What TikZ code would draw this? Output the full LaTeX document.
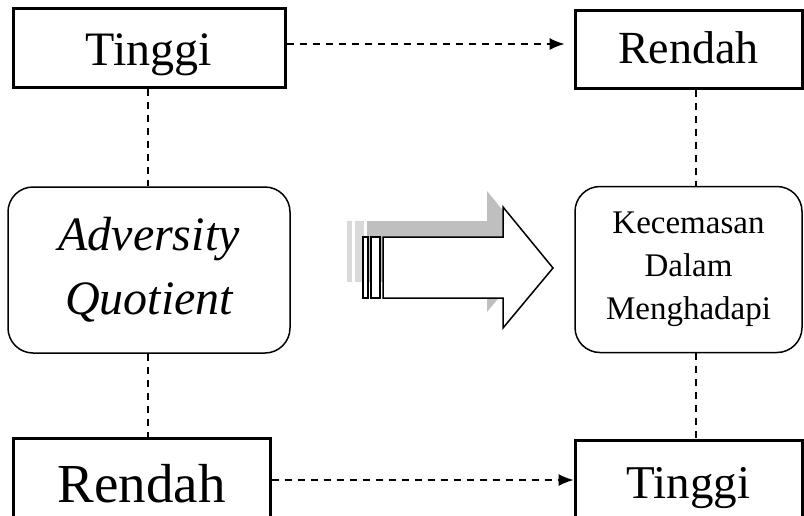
\documentclass[tikz,border=0pt]{standalone}
\usepackage{fontspec}
\setmainfont{Liberation Serif}
\usetikzlibrary{arrows.meta,calc}

\tikzset{
  levelbox/.style={draw, line width=3pt, inner sep=0pt, anchor=base},
  roundbox/.style={draw, line width=1.5pt, rounded corners=25pt, align=center, inner sep=0pt, minimum height=166pt},
  link/.style={line width=1.3pt, dash pattern=on 7pt off 6pt},
}

\begin{document}
\begin{tikzpicture}[x=1pt,y=-1pt]
    \useasboundingbox (0,0) rectangle (804,515);
    \node[levelbox, minimum width=272pt, text height=57pt, text depth=22pt, font=\fontsize{48}{48}\selectfont] (tl) at (149,65) {Tinggi};
    \node[levelbox, minimum width=227pt, text height=53pt, text depth=25pt, font=\fontsize{46}{46}\selectfont] (tr) at (688.5,63) {Rendah};
    \node[levelbox, minimum width=257pt, text height=64pt, text depth=30pt, font=\fontsize{55}{55}\selectfont] (bl) at (141.5,502) {Rendah};
    \node[levelbox, minimum width=227pt, text height=58pt, text depth=34pt, font=\fontsize{47}{47}\selectfont] (br) at (688.5,498) {Tinggi};
    \node[roundbox, minimum width=282pt, font=\itshape\fontsize{48}{64}\selectfont] (adv) at (149,270) {Adversity\\Quotient};
    \node[roundbox, minimum width=227pt, font=\fontsize{33}{43}\selectfont] (kec) at (688.5,269.5) {Kecemasan\\Dalam\\Menghadapi};

    \coordinate (lx) at (148,0);
    \coordinate (rx) at (696,0);
    \coordinate (ty) at (0,44);
    \coordinate (by) at (0,480);
    \draw[link] (lx |- tl.south) -- (lx |- adv.north);
    \draw[link] (lx |- adv.south) -- (lx |- bl.north);
    \draw[link] (rx |- tr.south) -- (rx |- kec.north);
    \draw[link] (rx |- kec.south) -- (rx |- br.north);
    \draw[link, -{Latex[length=15pt,width=12pt]}, shorten >=9pt] (tl.east |- ty) -- (tr.west |- ty);
    \draw[link, -{Latex[length=15pt,width=12pt]}] (bl.east |- by) -- (br.west |- by);

    \begin{scope}[shift={(-16,-16)}]
    \fill[black!25] (383,237) -- (503,237) -- (503,207) -- (553,268) -- (503,328) -- (503,298) -- (383,298) -- cycle;
    \fill[black!15] (363,237) rectangle (368,298);
    \fill[black!15] (371,237) rectangle (380,298);
    \end{scope}
    \draw[fill=white, line width=1.5pt, line join=miter] (383,237) -- (503,237) -- (503,207) -- (553,268) -- (503,328) -- (503,298) -- (383,298) -- cycle;
    \draw[fill=white, line width=1.2pt] (363,237) rectangle (368,298);
    \draw[fill=white, line width=1.2pt] (371,237) rectangle (380,298);
\end{tikzpicture}
\end{document}
